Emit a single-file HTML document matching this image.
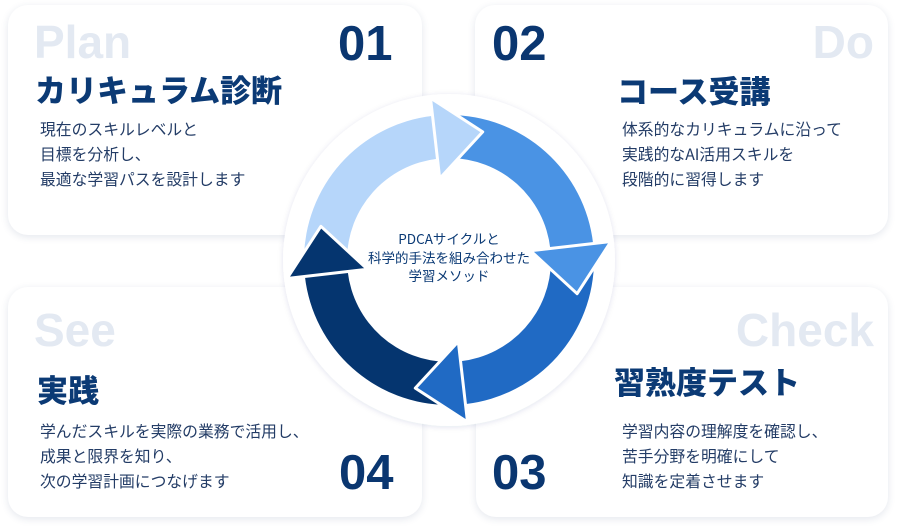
<!DOCTYPE html>
<html><head><meta charset="utf-8"><style>
*{margin:0;padding:0;box-sizing:border-box}
body{width:898px;height:529px;background:#fff;position:relative;overflow:hidden;font-family:"Liberation Sans","Noto Sans CJK JP",sans-serif;color:#0b3a75}
.card{position:absolute;background:#fff;border-radius:20px;box-shadow:0 2px 8px rgba(30,60,110,0.12)}
.t{position:absolute;white-space:nowrap}
.ghost{font-size:46px;font-weight:bold;color:#e3e9f2;line-height:1}
.num{font-size:49px;font-weight:bold;color:#0a3670;line-height:1}
.title{font-size:31px;font-weight:900;color:#0b3a75;line-height:1;font-family:"Noto Sans CJK JP",sans-serif}
.body{font-size:15.8px;line-height:25px;color:#233c66;font-family:"Noto Sans CJK JP",sans-serif}
.center{position:absolute;left:344px;top:229px;width:210px;text-align:center;font-size:13.5px;line-height:18.5px;color:#0b3a75;font-family:"Noto Sans CJK JP",sans-serif}
</style></head><body>
<div class="card" style="left:8px;top:5px;width:414px;height:230px"></div>
<div class="card" style="left:475px;top:5px;width:413px;height:230px"></div>
<div class="card" style="left:8px;top:287px;width:414px;height:230px"></div>
<div class="card" style="left:476px;top:287px;width:412px;height:230px"></div>

<div class="t ghost" style="left:34px;top:19px">Plan</div>
<div class="t num" style="left:338px;top:20px">01</div>
<div class="t title" style="left:35px;top:73px">カリキュラム診断</div>
<div class="t body" style="left:40px;top:116px">現在のスキルレベルと<br>目標を分析し、<br>最適な学習パスを設計します</div>

<div class="t ghost" style="right:24px;top:19px">Do</div>
<div class="t num" style="left:492px;top:20px">02</div>
<div class="t title" style="left:617px;top:74px">コース受講</div>
<div class="t body" style="left:622px;top:116px">体系的なカリキュラムに沿って<br>実践的なAI活用スキルを<br>段階的に習得します</div>

<div class="t ghost" style="left:34px;top:307px">See</div>
<div class="t title" style="left:37px;top:373px">実践</div>
<div class="t body" style="left:40px;top:418px">学んだスキルを実際の業務で活用し、<br>成果と限界を知り、<br>次の学習計画につなげます</div>
<div class="t num" style="left:339px;top:449px">04</div>

<div class="t ghost" style="right:24px;top:307px">Check</div>
<div class="t title" style="left:614px;top:365px">習熟度テスト</div>
<div class="t body" style="left:622px;top:418px">学習内容の理解度を確認し、<br>苦手分野を明確にして<br>知識を定着させます</div>
<div class="t num" style="left:492px;top:449px">03</div>

<svg width="898" height="529" style="position:absolute;left:0;top:0">
<defs><filter id="sh" x="-20%" y="-20%" width="140%" height="140%"><feDropShadow dx="0" dy="1" stdDeviation="3" flood-color="#1e3c6e" flood-opacity="0.12"/></filter></defs>
<circle cx="449" cy="260" r="166" fill="#fff" filter="url(#sh)"/>
<path d="M304,260 A145,145 0 0 1 432.6,115.9 L437.5,158.7 A102,102 0 0 0 347,260 Z" fill="#b6d6fa"/>
<path d="M449,115 A145,145 0 0 1 593.1,243.6 L550.3,248.5 A102,102 0 0 0 449,158 Z" fill="#4a93e4"/>
<path d="M594,260 A145,145 0 0 1 465.4,404.1 L460.5,361.3 A102,102 0 0 0 551,260 Z" fill="#206ac4"/>
<path d="M449,405 A145,145 0 0 1 304.9,276.4 L347.7,271.5 A102,102 0 0 0 449,362 Z" fill="#05356f"/>
<g stroke="#fff" stroke-width="3" stroke-linejoin="round">
<polygon points="430.5,98 482.7,131.9 439.7,178.5" fill="#b6d6fa"/>
<polygon points="611,241.5 577.1,293.7 530.5,250.7" fill="#4a93e4"/>
<polygon points="467.5,422 415.3,388.1 458.3,341.5" fill="#206ac4"/>
<polygon points="287,278.5 320.9,226.3 367.5,269.3" fill="#05356f"/>
</g>
</svg>
<div class="center">PDCAサイクルと<br>科学的手法を組み合わせた<br>学習メソッド</div>
</body></html>
